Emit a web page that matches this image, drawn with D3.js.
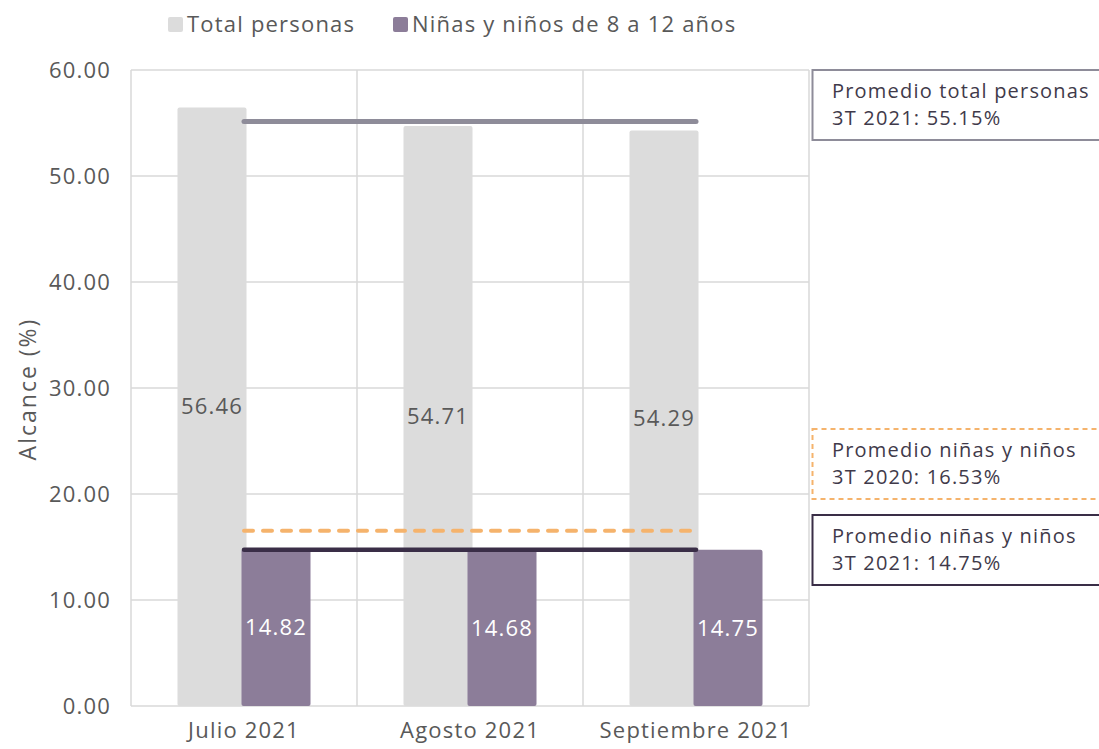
<!DOCTYPE html>
<html><head><meta charset="utf-8">
<script src="https://cdn.jsdelivr.net/npm/d3@7"></script>
<style>
html,body{margin:0;padding:0;background:#fff;}
text{font-family:"Open Sans","Noto Sans",sans-serif;letter-spacing:1.2px;}
</style></head>
<body>
<svg id="chart" width="1099" height="749"></svg>
<script>
const categories = ["Julio 2021", "Agosto 2021", "Septiembre 2021"];
const totalPersonas = [56.46, 54.71, 54.29];
const ninos = [14.82, 14.68, 14.75];
const seriesNames = ["Total personas", "Niñas y niños de 8 a 12 años"];
const avgTotal2021 = 55.15;
const avgNinos2020 = 16.53;
const avgNinos2021 = 14.75;
const yTicks = [0, 10, 20, 30, 40, 50, 60];
const boxTexts = [
  ["Promedio total personas", "3T 2021: 55.15%"],
  ["Promedio niñas y niños", "3T 2020: 16.53%"],
  ["Promedio niñas y niños", "3T 2021: 14.75%"]
];

const svg = d3.select("#chart");
const L = 131, R = 809, T = 70, B = 706;
const grayC = "#dcdcdc", purpleC = "#8c7d99", textC = "#595959", gridC = "#d9d9d9";
const avgLineC = "#8e8c99", orangeC = "#f5b36c", darkC = "#3a2e47";

const x = d3.scaleBand().domain(categories).range([L, R]).padding(0);
const y = d3.scaleLinear().domain([0, 60]).range([B, T]);

// grid
const g = svg.append("g");
g.selectAll("line.h").data(yTicks).join("line")
  .attr("x1", L).attr("x2", R).attr("y1", d => y(d)).attr("y2", d => y(d))
  .attr("stroke", gridC).attr("stroke-width", 1.5);
const vb = [L, ...categories.map(c => x(c) + x.bandwidth())];
g.selectAll("line.v").data(vb).join("line")
  .attr("x1", d => d).attr("x2", d => d).attr("y1", T).attr("y2", B)
  .attr("stroke", gridC).attr("stroke-width", 1.5);

// y axis labels
const yAxis = d3.axisLeft(y).tickValues(yTicks).tickFormat(d3.format(".2f")).tickSize(0).tickPadding(20);
const ya = svg.append("g").attr("transform", `translate(${L},0)`).call(yAxis);
ya.select(".domain").remove();
ya.selectAll("text").attr("font-size", 22).attr("fill", textC).attr("font-family", "Open Sans, sans-serif");

// x axis labels
const xAxis = d3.axisBottom(x).tickSize(0).tickPadding(16);
const xa = svg.append("g").attr("transform", `translate(0,${B})`).call(xAxis);
xa.select(".domain").remove();
xa.selectAll("text").attr("font-size", 22).attr("fill", textC).attr("font-family", "Open Sans, sans-serif");

// y title
svg.append("text").attr("transform", `translate(36,${(T + B) / 2 + 1}) rotate(-90)`)
  .attr("text-anchor", "middle").attr("font-size", 23).attr("fill", textC)
  .style("letter-spacing", "2px").text("Alcance (%)");

// bars
const bw = 69, ov = 5;
const groupW = bw * 2 - ov;
const off = (x.bandwidth() - groupW) / 2;
svg.append("g").selectAll("rect").data(categories).join("rect")
  .attr("x", d => x(d) + off).attr("width", bw)
  .attr("y", (d, i) => y(totalPersonas[i])).attr("height", (d, i) => B - y(totalPersonas[i]))
  .attr("rx", 2).attr("fill", grayC);
svg.append("g").selectAll("rect").data(categories).join("rect")
  .attr("x", d => x(d) + off + bw - ov).attr("width", bw)
  .attr("y", (d, i) => y(ninos[i])).attr("height", (d, i) => B - y(ninos[i]))
  .attr("rx", 2).attr("fill", purpleC);

// data labels
svg.append("g").selectAll("text").data(categories).join("text")
  .attr("x", d => x(d) + off + bw / 2).attr("y", (d, i) => y(totalPersonas[i] / 2))
  .attr("dy", "0.35em").attr("text-anchor", "middle").attr("font-size", 22).attr("fill", textC)
  .text((d, i) => totalPersonas[i].toFixed(2));
svg.append("g").selectAll("text").data(categories).join("text")
  .attr("x", d => x(d) + off + bw - ov + bw / 2).attr("y", (d, i) => y(ninos[i] / 2))
  .attr("dy", "0.35em").attr("text-anchor", "middle").attr("font-size", 22).attr("fill", "#ffffff")
  .text((d, i) => ninos[i].toFixed(2));

// average lines at category centers
const cx = d => x(d) + x.bandwidth() / 2;
const lineGen = d3.line().x(d => cx(d.c)).y(d => y(d.v));
function avgLine(val, color, w, dash) {
  const p = svg.append("path")
    .datum([{c: categories[0], v: val}, {c: categories[categories.length - 1], v: val}])
    .attr("d", lineGen).attr("fill", "none").attr("stroke", color).attr("stroke-width", w)
    .attr("stroke-linecap", "round");
  if (dash) p.attr("stroke-dasharray", dash);
}
avgLine(avgTotal2021, avgLineC, 5);
avgLine(avgNinos2020, orangeC, 4, "9,10");
avgLine(avgNinos2021, darkC, 4.5);

// annotation boxes
const boxes = [
  {y0: 70, y1: 140, stroke: avgLineC, dash: null, t: boxTexts[0]},
  {y0: 429, y1: 499, stroke: orangeC, dash: "5,4", t: boxTexts[1]},
  {y0: 515, y1: 585, stroke: darkC, dash: null, t: boxTexts[2]}
];
boxes.forEach(b => {
  svg.append("rect").attr("x", 812.5).attr("y", b.y0).attr("width", 300).attr("height", b.y1 - b.y0)
    .attr("fill", "#fff").attr("stroke", b.stroke).attr("stroke-width", 2)
    .attr("stroke-dasharray", b.dash);
  b.t.forEach((s, i) => {
    svg.append("text").attr("x", 832).attr("y", b.y0 + 28 + i * 27)
      .attr("font-size", 20).attr("fill", "#3f3a4a").text(s);
  });
});

// legend
const leg = svg.append("g");
const legX = [168, 393];
seriesNames.forEach((n, i) => {
  leg.append("rect").attr("x", legX[i]).attr("y", 17).attr("width", 15).attr("height", 15).attr("rx", 2)
    .attr("fill", i === 0 ? grayC : purpleC);
  leg.append("text").attr("x", legX[i] + 19).attr("y", 32).attr("font-size", 22).attr("fill", textC).text(n);
});
</script>
</body></html>
